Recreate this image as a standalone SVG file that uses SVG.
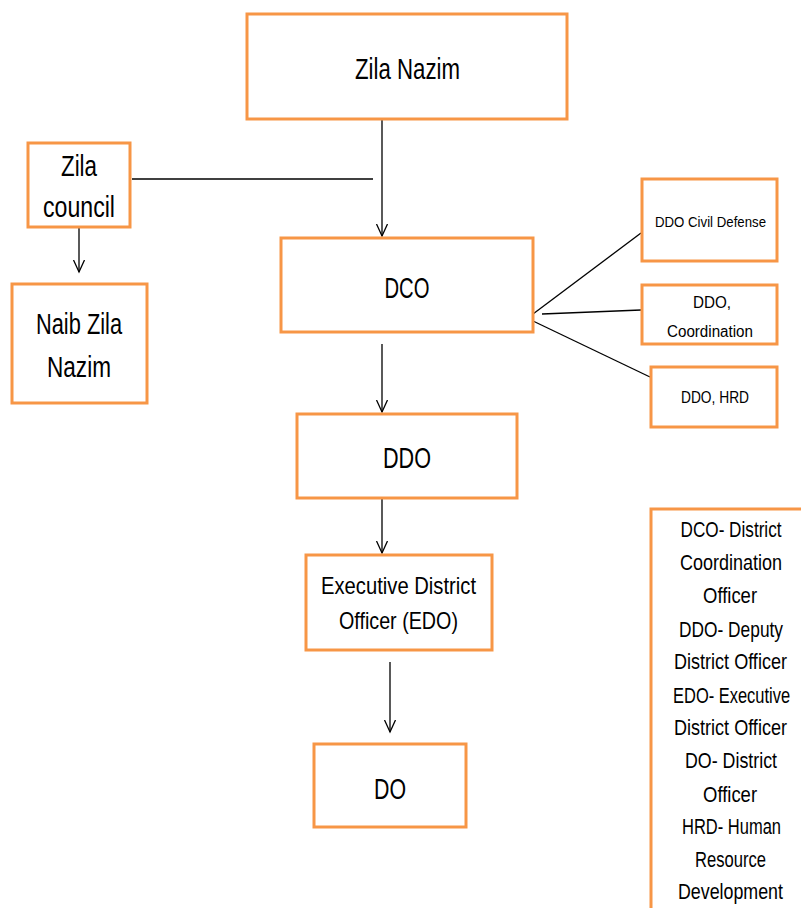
<svg xmlns="http://www.w3.org/2000/svg" width="801" height="908" viewBox="0 0 801 908">
<defs>
<style>
.box{fill:#fff;stroke:#F79646;stroke-width:3}
.edge{fill:none;stroke:#F79646;stroke-width:3}
.t{font-family:"Liberation Sans",Arial,sans-serif;fill:#000;text-anchor:middle}
.big{font-size:30px}
.mid{font-size:24px}
.leg{font-size:22px}
.sm{font-size:16px}
.ln{stroke:#000;stroke-width:1.3;fill:none}
</style>
<marker id="ah" markerWidth="14" markerHeight="14" refX="12" refY="6" orient="auto" markerUnits="userSpaceOnUse">
<path d="M0,0.5 L12,6 L0,11.5" fill="none" stroke="#000" stroke-width="1.3"/>
</marker>
</defs>
<rect width="801" height="908" fill="#fff"/>
<g id="connectors">
<line class="ln" x1="382" y1="120" x2="382" y2="236" marker-end="url(#ah)"/>
<line class="ln" x1="132" y1="179" x2="373" y2="179"/>
<line class="ln" x1="79" y1="227" x2="79" y2="272" marker-end="url(#ah)"/>
<line class="ln" x1="382" y1="344" x2="382" y2="412" marker-end="url(#ah)"/>
<line class="ln" x1="382" y1="498" x2="382" y2="553" marker-end="url(#ah)"/>
<line class="ln" x1="390" y1="662" x2="390" y2="732" marker-end="url(#ah)"/>
<line class="ln" x1="533" y1="314" x2="641" y2="233"/>
<line class="ln" x1="542" y1="314" x2="641" y2="310"/>
<line class="ln" x1="533" y1="321" x2="650" y2="377"/>
</g>
<g id="zila-nazim">
<rect class="box" x="247" y="14" width="320" height="105"/>
<text class="t big" x="407.5" y="79" textLength="105" lengthAdjust="spacingAndGlyphs">Zila Nazim</text>
</g>
<g id="zila-council">
<rect class="box" x="28" y="143" width="102" height="84"/>
<text class="t big" x="79" y="176" textLength="36" lengthAdjust="spacingAndGlyphs">Zila</text>
<text class="t big" x="79" y="217" textLength="72" lengthAdjust="spacingAndGlyphs">council</text>
</g>
<g id="naib-zila-nazim">
<rect class="box" x="12" y="284" width="135" height="119"/>
<text class="t big" x="79" y="334" textLength="86" lengthAdjust="spacingAndGlyphs">Naib Zila</text>
<text class="t big" x="79" y="377" textLength="64" lengthAdjust="spacingAndGlyphs">Nazim</text>
</g>
<g id="dco">
<rect class="box" x="281" y="238" width="252" height="94"/>
<text class="t big" x="407" y="298" textLength="45" lengthAdjust="spacingAndGlyphs">DCO</text>
</g>
<g id="ddo-civil-defense">
<rect class="box" x="642" y="179" width="135" height="82"/>
<text class="t" style="font-size:15px" x="710.5" y="227" textLength="111" lengthAdjust="spacingAndGlyphs">DDO Civil Defense</text>
</g>
<g id="ddo-coordination">
<rect class="box" x="642" y="285" width="135" height="59"/>
<text class="t sm" x="712" y="308" textLength="38" lengthAdjust="spacingAndGlyphs">DDO,</text>
<text class="t sm" x="710" y="337" textLength="86" lengthAdjust="spacingAndGlyphs">Coordination</text>
</g>
<g id="ddo-hrd">
<rect class="box" x="651" y="367" width="126" height="60"/>
<text class="t sm" x="715" y="403" textLength="68" lengthAdjust="spacingAndGlyphs">DDO, HRD</text>
</g>
<g id="ddo">
<rect class="box" x="297" y="414" width="220" height="84"/>
<text class="t big" x="407" y="468" textLength="48" lengthAdjust="spacingAndGlyphs">DDO</text>
</g>
<g id="edo">
<rect class="box" x="306" y="555" width="186" height="95"/>
<text class="t mid" x="398.5" y="594" textLength="155" lengthAdjust="spacingAndGlyphs">Executive District</text>
<text class="t mid" x="398.5" y="629" textLength="119" lengthAdjust="spacingAndGlyphs">Officer (EDO)</text>
</g>
<g id="do">
<rect class="box" x="314" y="744" width="152" height="83"/>
<text class="t big" x="390" y="799" textLength="32" lengthAdjust="spacingAndGlyphs">DO</text>
</g>
<g id="legend">
<path class="edge" d="M651,908 V509 H801"/>
<g transform="translate(731 0) scale(0.75 1)">
<text class="t leg" x="0" y="537" textLength="134.7" lengthAdjust="spacingAndGlyphs">DCO- District</text>
<text class="t leg" x="0" y="570" textLength="136" lengthAdjust="spacingAndGlyphs">Coordination</text>
<text class="t leg" x="-1.3" y="603" textLength="72" lengthAdjust="spacingAndGlyphs">Officer</text>
<text class="t leg" x="0" y="637" textLength="138.7" lengthAdjust="spacingAndGlyphs">DDO- Deputy</text>
<text class="t leg" x="-0.7" y="669" textLength="150.7" lengthAdjust="spacingAndGlyphs">District Officer</text>
<text class="t leg" x="0.7" y="703" textLength="156" lengthAdjust="spacingAndGlyphs">EDO- Executive</text>
<text class="t leg" x="-0.7" y="735" textLength="150.7" lengthAdjust="spacingAndGlyphs">District Officer</text>
<text class="t leg" x="0" y="768" textLength="122.7" lengthAdjust="spacingAndGlyphs">DO- District</text>
<text class="t leg" x="-1.3" y="802" textLength="72" lengthAdjust="spacingAndGlyphs">Officer</text>
<text class="t leg" x="0.7" y="834" textLength="132" lengthAdjust="spacingAndGlyphs">HRD- Human</text>
<text class="t leg" x="-0.7" y="867" textLength="94.7" lengthAdjust="spacingAndGlyphs">Resource</text>
<text class="t leg" x="-0.7" y="899" textLength="140" lengthAdjust="spacingAndGlyphs">Development</text>
</g>
</g>
</svg>
